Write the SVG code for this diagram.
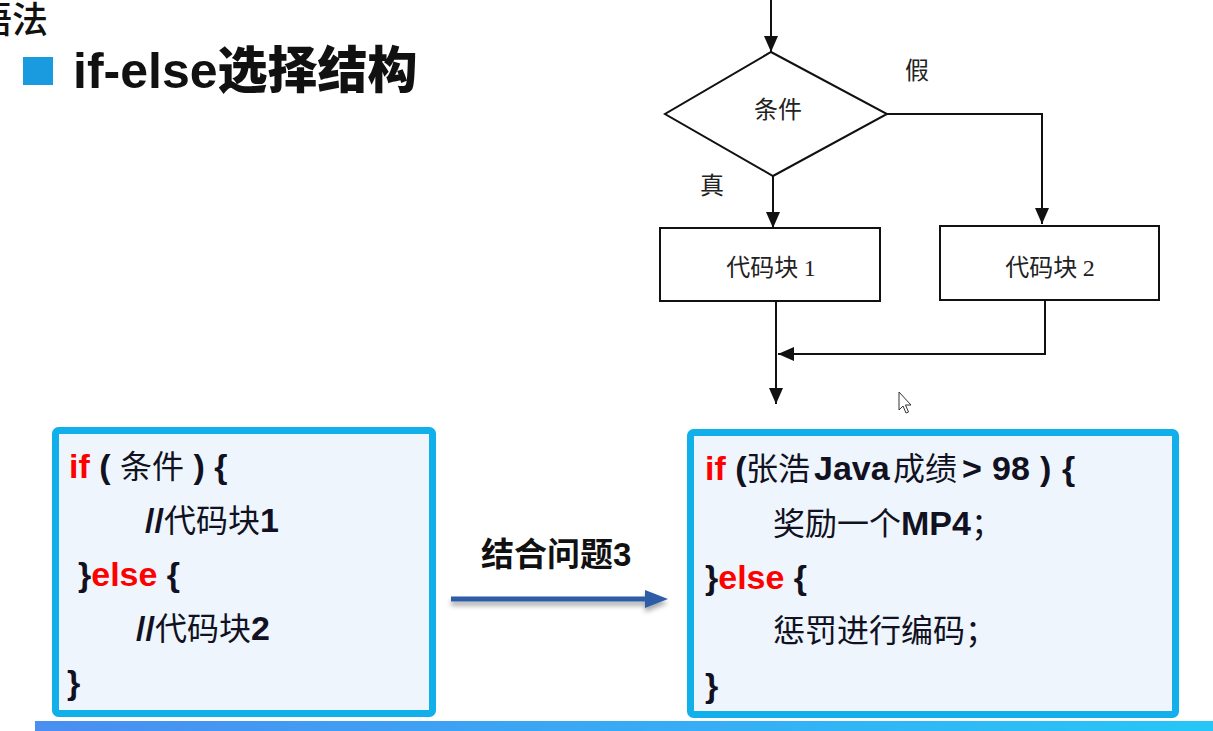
<svg xmlns="http://www.w3.org/2000/svg" width="1213" height="731" viewBox="0 0 1213 731">
<style>
.fl{stroke:#111;stroke-width:2;fill:none}
.box{fill:#fff;stroke:#111;stroke-width:2}
.ft{font-family:"Noto Sans CJK SC","Liberation Serif",serif;font-size:24px;fill:#222}
.num{font-family:"Liberation Serif","Noto Sans CJK SC",serif}
.code{font-family:"Liberation Sans","Noto Sans CJK SC",sans-serif;font-size:34px;font-weight:bold;fill:#111122}
.cjk{font-family:"Noto Sans CJK SC",sans-serif;font-size:32px;font-weight:normal}
.kw{fill:#ff0000}
.cbox{fill:#eef5fc;stroke:#12b0ea;stroke-width:7}
</style>
<defs>
<marker id="ah" viewBox="0 0 16 14" refX="16" refY="7" markerWidth="16" markerHeight="14" markerUnits="userSpaceOnUse" orient="auto">
<path d="M0,0 L16,7 L0,14 Z" fill="#111"/>
</marker>
<linearGradient id="band" x1="0" y1="0" x2="1" y2="0">
<stop offset="0" stop-color="#4a8ef2"/>
<stop offset="1" stop-color="#27c6f7"/>
</linearGradient>
<filter id="sh" x="-10%" y="-100%" width="120%" height="400%">
<feDropShadow dx="0" dy="4" stdDeviation="2.5" flood-color="#000" flood-opacity="0.35"/>
</filter>
</defs>
<rect x="0" y="0" width="1213" height="731" fill="#fff"/>

<g id="heading">
<text x="-24" y="33" font-family="Noto Sans CJK SC,sans-serif" font-size="36" font-weight="500" fill="#111">语法</text>
<rect x="23" y="57" width="30" height="28" fill="#1a9be0"/>
<text x="73" y="88" font-family="Liberation Sans,Noto Sans CJK SC,sans-serif" font-size="50" font-weight="bold" fill="#111">if-else<tspan font-family="Noto Sans CJK SC,sans-serif" font-weight="900">选择结构</tspan></text>
</g>

<g id="connectors">
<line class="fl" x1="771" y1="0" x2="771" y2="52" marker-end="url(#ah)"/>
<line class="fl" x1="773" y1="176" x2="773" y2="228" marker-end="url(#ah)"/>
<polyline class="fl" points="887,114 1042,114 1042,224" marker-end="url(#ah)"/>
<line class="fl" x1="776" y1="301" x2="776" y2="404" marker-end="url(#ah)"/>
<polyline class="fl" points="1045,300 1045,354 778,354" marker-end="url(#ah)"/>
<g filter="url(#sh)">
<line x1="451" y1="599" x2="648" y2="599" stroke="#2d5da8" stroke-width="5"/>
<path d="M645,590 L668,599 L645,608 Z" fill="#2d5da8"/>
</g>
<text x="481" y="566" font-family="Noto Sans CJK SC,sans-serif" font-size="33" font-weight="bold" fill="#111">结合问题<tspan font-family="Liberation Sans,sans-serif">3</tspan></text>
<text class="ft" x="905" y="79">假</text>
<text class="ft" x="700" y="194">真</text>
</g>

<g id="cond">
<path class="box" d="M771,52 L887,114 L773,176 L665,114 Z"/>
<text class="ft" x="778" y="118" text-anchor="middle">条件</text>
</g>
<g id="block1">
<rect class="box" x="660" y="228" width="220" height="73"/>
<text class="ft" x="771" y="276" text-anchor="middle">代码块 <tspan class="num">1</tspan></text>
</g>
<g id="block2">
<rect class="box" x="940" y="226" width="219" height="74"/>
<text class="ft" x="1050" y="276" text-anchor="middle">代码块 <tspan class="num">2</tspan></text>
</g>

<g id="cursor">
<path d="M899,392 L899,410 L903,406 L906,413 L908.5,412 L905.5,405 L911,405 Z" fill="#fff" stroke="#333" stroke-width="1"/>
</g>

<g id="syntax-box">
<rect class="cbox" x="55.5" y="430.5" width="377" height="283" rx="3"/>
<text class="code" x="69" y="478"><tspan class="kw">if</tspan> ( <tspan class="cjk">条件</tspan> ) {</text>
<text class="code" x="145" y="532">//<tspan class="cjk">代码块</tspan>1</text>
<text class="code" x="78" y="586">}<tspan class="kw">else</tspan> {</text>
<text class="code" x="136" y="640">//<tspan class="cjk">代码块</tspan>2</text>
<text class="code" x="67" y="694">}</text>
</g>

<g id="example-box">
<rect class="cbox" x="690.5" y="432.5" width="485" height="282" rx="3"/>
<text class="code" x="705" y="480"><tspan class="kw">if</tspan> (<tspan class="cjk" font-size="33" x="746">张浩</tspan><tspan x="814">Java</tspan><tspan class="cjk" font-size="33" x="893">成绩</tspan><tspan x="962">&gt;</tspan><tspan x="992">98</tspan><tspan x="1040">)</tspan><tspan x="1062">{</tspan></text>
<text class="code" x="773" y="535"><tspan class="cjk" font-size="33">奖励一个</tspan>MP4<tspan class="cjk" font-size="33">；</tspan></text>
<text class="code" x="705" y="589">}<tspan class="kw">else</tspan> {</text>
<text class="code" x="773" y="642"><tspan class="cjk" font-size="33">惩罚进行编码；</tspan></text>
<text class="code" x="705" y="697">}</text>
</g>

<rect x="35" y="721" width="1178" height="10" fill="url(#band)"/>
</svg>
